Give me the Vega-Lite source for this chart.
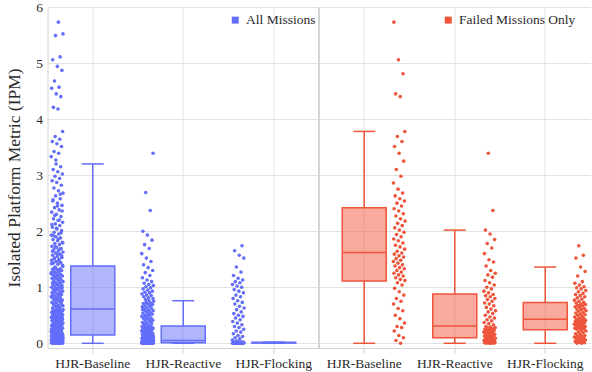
{
  "$schema": "https://vega.github.io/schema/vega-lite/v6.json",
  "width": 543,
  "height": 341,
  "autosize": "none",
  "padding": {"left": 47.5, "top": 7, "right": 1.5, "bottom": 24},
  "background": "white",
  "datasets": {
    "wh": [{"k":1,"v":0,"v2":0.15},{"k":1,"v":1.38,"v2":3.2},{"k":2,"v":0,"v2":0.01},{"k":2,"v":0.31,"v2":0.76},{"k":3,"v":0,"v2":0.005},{"k":3,"v":0.02,"v2":0.02},{"k":4,"v":0,"v2":1.11},{"k":4,"v":2.42,"v2":3.78},{"k":5,"v":0,"v2":0.1},{"k":5,"v":0.88,"v2":2.02},{"k":6,"v":0,"v2":0.24},{"k":6,"v":0.73,"v2":1.36}],
    "cap": [{"k":1,"v":0},{"k":1,"v":3.2},{"k":2,"v":0},{"k":2,"v":0.76},{"k":3,"v":0},{"k":3,"v":0.02},{"k":4,"v":0},{"k":4,"v":3.78},{"k":5,"v":0},{"k":5,"v":2.02},{"k":6,"v":0},{"k":6,"v":1.36}],
    "iqr": [{"k":1,"v":0.15,"v2":1.38},{"k":2,"v":0.01,"v2":0.31},{"k":3,"v":0.005,"v2":0.02},{"k":4,"v":1.11,"v2":2.42},{"k":5,"v":0.1,"v2":0.88},{"k":6,"v":0.24,"v2":0.73}],
    "med": [{"k":1,"v":0.61},{"k":2,"v":0.05},{"k":3,"v":0.01},{"k":4,"v":1.62},{"k":5,"v":0.31},{"k":6,"v":0.43}],
    "pts": [
      {"k":1,"v":0},{"k":1,"v":0},{"k":1,"v":0},{"k":1,"v":0},{"k":1,"v":0},{"k":1,"v":0},{"k":1,"v":0},{"k":1,"v":0},{"k":1,"v":0.01},{"k":1,"v":0.01},{"k":1,"v":0.01},{"k":1,"v":0.01},{"k":1,"v":0.01},{"k":1,"v":0.01},{"k":1,"v":0.02},{"k":1,"v":0.02},{"k":1,"v":0.02},{"k":1,"v":0.02},{"k":1,"v":0.02},{"k":1,"v":0.02},{"k":1,"v":0.03},{"k":1,"v":0.03},{"k":1,"v":0.03},{"k":1,"v":0.03},{"k":1,"v":0.03},{"k":1,"v":0.04},{"k":1,"v":0.04},{"k":1,"v":0.04},{"k":1,"v":0.04},{"k":1,"v":0.04},{"k":1,"v":0.05},{"k":1,"v":0.05},{"k":1,"v":0.05},{"k":1,"v":0.05},{"k":1,"v":0.05},{"k":1,"v":0.06},{"k":1,"v":0.06},{"k":1,"v":0.06},{"k":1,"v":0.06},{"k":1,"v":0.06},{"k":1,"v":0.07},{"k":1,"v":0.07},{"k":1,"v":0.07},{"k":1,"v":0.07},{"k":1,"v":0.08},{"k":1,"v":0.08},{"k":1,"v":0.08},{"k":1,"v":0.08},{"k":1,"v":0.08},{"k":1,"v":0.09},{"k":1,"v":0.09},{"k":1,"v":0.09},{"k":1,"v":0.09},{"k":1,"v":0.1},{"k":1,"v":0.1},{"k":1,"v":0.1},{"k":1,"v":0.1},{"k":1,"v":0.1},{"k":1,"v":0.11},{"k":1,"v":0.11},{"k":1,"v":0.11},{"k":1,"v":0.11},{"k":1,"v":0.12},{"k":1,"v":0.12},{"k":1,"v":0.12},{"k":1,"v":0.12},{"k":1,"v":0.13},{"k":1,"v":0.13},{"k":1,"v":0.13},{"k":1,"v":0.13},{"k":1,"v":0.14},{"k":1,"v":0.14},{"k":1,"v":0.14},{"k":1,"v":0.14},{"k":1,"v":0.14},{"k":1,"v":0.15},{"k":1,"v":0.15},{"k":1,"v":0.15},{"k":1,"v":0.15},{"k":1,"v":0.15},
      {"k":1,"v":0.16},{"k":1,"v":0.17},{"k":1,"v":0.17},{"k":1,"v":0.18},{"k":1,"v":0.19},{"k":1,"v":0.19},{"k":1,"v":0.2},{"k":1,"v":0.21},{"k":1,"v":0.21},{"k":1,"v":0.22},{"k":1,"v":0.23},{"k":1,"v":0.24},{"k":1,"v":0.24},{"k":1,"v":0.25},{"k":1,"v":0.26},{"k":1,"v":0.26},{"k":1,"v":0.27},{"k":1,"v":0.28},{"k":1,"v":0.29},{"k":1,"v":0.29},{"k":1,"v":0.3},{"k":1,"v":0.31},{"k":1,"v":0.31},{"k":1,"v":0.32},{"k":1,"v":0.33},{"k":1,"v":0.33},{"k":1,"v":0.34},{"k":1,"v":0.35},{"k":1,"v":0.36},{"k":1,"v":0.36},{"k":1,"v":0.37},{"k":1,"v":0.38},{"k":1,"v":0.38},{"k":1,"v":0.39},{"k":1,"v":0.4},{"k":1,"v":0.41},{"k":1,"v":0.41},{"k":1,"v":0.42},{"k":1,"v":0.43},{"k":1,"v":0.43},{"k":1,"v":0.44},{"k":1,"v":0.45},{"k":1,"v":0.46},{"k":1,"v":0.46},{"k":1,"v":0.47},{"k":1,"v":0.48},{"k":1,"v":0.48},{"k":1,"v":0.49},{"k":1,"v":0.5},{"k":1,"v":0.51},{"k":1,"v":0.51},{"k":1,"v":0.52},{"k":1,"v":0.53},{"k":1,"v":0.53},{"k":1,"v":0.54},{"k":1,"v":0.55},{"k":1,"v":0.56},{"k":1,"v":0.56},{"k":1,"v":0.57},{"k":1,"v":0.58},{"k":1,"v":0.58},{"k":1,"v":0.59},{"k":1,"v":0.6},{"k":1,"v":0.6},{"k":1,"v":0.61},{"k":1,"v":0.18},{"k":1,"v":0.22},{"k":1,"v":0.27},{"k":1,"v":0.32},{"k":1,"v":0.35},{"k":1,"v":0.39},{"k":1,"v":0.44},{"k":1,"v":0.47},{"k":1,"v":0.5},{"k":1,"v":0.55},{"k":1,"v":0.2},{"k":1,"v":0.25},{"k":1,"v":0.3},{"k":1,"v":0.4},{"k":1,"v":0.45},
      {"k":1,"v":0.62},{"k":1,"v":0.63},{"k":1,"v":0.64},{"k":1,"v":0.66},{"k":1,"v":0.67},{"k":1,"v":0.68},{"k":1,"v":0.7},{"k":1,"v":0.71},{"k":1,"v":0.72},{"k":1,"v":0.73},{"k":1,"v":0.75},{"k":1,"v":0.76},{"k":1,"v":0.77},{"k":1,"v":0.78},{"k":1,"v":0.8},{"k":1,"v":0.81},{"k":1,"v":0.82},{"k":1,"v":0.83},{"k":1,"v":0.85},{"k":1,"v":0.86},{"k":1,"v":0.87},{"k":1,"v":0.88},{"k":1,"v":0.9},{"k":1,"v":0.91},{"k":1,"v":0.92},{"k":1,"v":0.93},{"k":1,"v":0.95},{"k":1,"v":0.96},{"k":1,"v":0.97},{"k":1,"v":0.98},{"k":1,"v":1.0},{"k":1,"v":1.01},{"k":1,"v":1.02},{"k":1,"v":1.03},{"k":1,"v":1.05},{"k":1,"v":1.06},{"k":1,"v":1.07},{"k":1,"v":1.08},{"k":1,"v":1.1},{"k":1,"v":1.11},{"k":1,"v":1.12},{"k":1,"v":1.13},{"k":1,"v":1.15},{"k":1,"v":1.16},{"k":1,"v":1.17},{"k":1,"v":1.18},{"k":1,"v":1.2},{"k":1,"v":1.21},{"k":1,"v":1.22},{"k":1,"v":1.23},{"k":1,"v":1.25},{"k":1,"v":1.26},{"k":1,"v":1.27},{"k":1,"v":1.28},{"k":1,"v":1.3},{"k":1,"v":1.31},{"k":1,"v":1.32},{"k":1,"v":1.33},{"k":1,"v":1.35},{"k":1,"v":1.37},{"k":1,"v":0.65},{"k":1,"v":0.69},{"k":1,"v":0.74},{"k":1,"v":0.79},{"k":1,"v":0.84},{"k":1,"v":0.89},{"k":1,"v":0.94},{"k":1,"v":0.99},{"k":1,"v":1.04},{"k":1,"v":1.09},{"k":1,"v":1.14},{"k":1,"v":1.19},{"k":1,"v":1.24},{"k":1,"v":1.29},{"k":1,"v":1.34},{"k":1,"v":0.7},{"k":1,"v":0.8},{"k":1,"v":0.9},{"k":1,"v":1.0},{"k":1,"v":1.36},
      {"k":1,"v":1.39},{"k":1,"v":1.41},{"k":1,"v":1.43},{"k":1,"v":1.44},{"k":1,"v":1.46},{"k":1,"v":1.48},{"k":1,"v":1.5},{"k":1,"v":1.52},{"k":1,"v":1.53},{"k":1,"v":1.55},{"k":1,"v":1.57},{"k":1,"v":1.59},{"k":1,"v":1.61},{"k":1,"v":1.63},{"k":1,"v":1.65},{"k":1,"v":1.67},{"k":1,"v":1.69},{"k":1,"v":1.71},{"k":1,"v":1.73},{"k":1,"v":1.76},{"k":1,"v":1.78},{"k":1,"v":1.8},{"k":1,"v":1.83},{"k":1,"v":1.85},{"k":1,"v":1.88},{"k":1,"v":1.9},{"k":1,"v":1.93},{"k":1,"v":1.95},{"k":1,"v":1.98},{"k":1,"v":2.01},{"k":1,"v":2.04},{"k":1,"v":2.07},{"k":1,"v":2.1},{"k":1,"v":2.13},{"k":1,"v":2.16},{"k":1,"v":2.19},{"k":1,"v":2.22},{"k":1,"v":2.26},{"k":1,"v":2.3},{"k":1,"v":2.34},{"k":1,"v":2.38},{"k":1,"v":2.42},{"k":1,"v":2.46},{"k":1,"v":2.5},{"k":1,"v":2.54},{"k":1,"v":2.58},{"k":1,"v":2.63},{"k":1,"v":2.68},{"k":1,"v":2.72},{"k":1,"v":2.77},{"k":1,"v":2.82},{"k":1,"v":2.87},{"k":1,"v":2.9},{"k":1,"v":2.94},{"k":1,"v":2.98},{"k":1,"v":3.02},{"k":1,"v":3.06},{"k":1,"v":3.1},{"k":1,"v":3.15},{"k":1,"v":3.2},
      {"k":1,"v":1.42},{"k":1,"v":1.47},{"k":1,"v":1.51},{"k":1,"v":1.56},{"k":1,"v":1.6},{"k":1,"v":1.64},{"k":1,"v":1.68},{"k":1,"v":1.72},{"k":1,"v":1.79},{"k":1,"v":1.86},{"k":1,"v":1.92},{"k":1,"v":1.97},{"k":1,"v":2.05},{"k":1,"v":2.12},{"k":1,"v":2.2},{"k":1,"v":2.28},{"k":1,"v":2.36},{"k":1,"v":2.45},{"k":1,"v":2.56},{"k":1,"v":2.66},
      {"k":1,"v":3.27},{"k":1,"v":3.33},{"k":1,"v":3.39},{"k":1,"v":3.42},{"k":1,"v":3.51},{"k":1,"v":3.56},{"k":1,"v":3.6},{"k":1,"v":3.64},{"k":1,"v":3.69},{"k":1,"v":3.78},{"k":1,"v":4.18},{"k":1,"v":4.21},{"k":1,"v":4.4},{"k":1,"v":4.45},{"k":1,"v":4.55},{"k":1,"v":4.57},{"k":1,"v":4.68},{"k":1,"v":4.87},{"k":1,"v":4.94},{"k":1,"v":5.06},{"k":1,"v":5.11},{"k":1,"v":5.49},{"k":1,"v":5.52},{"k":1,"v":5.73},
      {"k":2,"v":0},{"k":2,"v":0},{"k":2,"v":0},{"k":2,"v":0},{"k":2,"v":0},{"k":2,"v":0},{"k":2,"v":0},{"k":2,"v":0},{"k":2,"v":0},{"k":2,"v":0},{"k":2,"v":0},{"k":2,"v":0},{"k":2,"v":0},{"k":2,"v":0},{"k":2,"v":0},{"k":2,"v":0},{"k":2,"v":0},{"k":2,"v":0},{"k":2,"v":0},{"k":2,"v":0},{"k":2,"v":0.01},{"k":2,"v":0.01},{"k":2,"v":0.01},{"k":2,"v":0.01},{"k":2,"v":0.01},{"k":2,"v":0.01},{"k":2,"v":0.01},{"k":2,"v":0.01},{"k":2,"v":0.01},{"k":2,"v":0.01},{"k":2,"v":0.02},{"k":2,"v":0.02},{"k":2,"v":0.02},{"k":2,"v":0.02},{"k":2,"v":0.02},{"k":2,"v":0.02},{"k":2,"v":0.02},{"k":2,"v":0.02},{"k":2,"v":0.02},{"k":2,"v":0.02},{"k":2,"v":0.03},{"k":2,"v":0.03},{"k":2,"v":0.03},{"k":2,"v":0.03},{"k":2,"v":0.03},{"k":2,"v":0.03},{"k":2,"v":0.03},{"k":2,"v":0.03},{"k":2,"v":0.04},{"k":2,"v":0.04},{"k":2,"v":0.04},{"k":2,"v":0.04},{"k":2,"v":0.04},{"k":2,"v":0.04},{"k":2,"v":0.05},{"k":2,"v":0.05},{"k":2,"v":0.05},{"k":2,"v":0.05},{"k":2,"v":0.05},{"k":2,"v":0.05},
      {"k":2,"v":0.06},{"k":2,"v":0.06},{"k":2,"v":0.07},{"k":2,"v":0.07},{"k":2,"v":0.08},{"k":2,"v":0.08},{"k":2,"v":0.09},{"k":2,"v":0.09},{"k":2,"v":0.1},{"k":2,"v":0.1},{"k":2,"v":0.11},{"k":2,"v":0.11},{"k":2,"v":0.12},{"k":2,"v":0.12},{"k":2,"v":0.13},{"k":2,"v":0.13},{"k":2,"v":0.14},{"k":2,"v":0.15},{"k":2,"v":0.15},{"k":2,"v":0.16},{"k":2,"v":0.16},{"k":2,"v":0.17},{"k":2,"v":0.18},{"k":2,"v":0.18},{"k":2,"v":0.19},{"k":2,"v":0.2},{"k":2,"v":0.2},{"k":2,"v":0.21},{"k":2,"v":0.22},{"k":2,"v":0.22},{"k":2,"v":0.23},{"k":2,"v":0.24},{"k":2,"v":0.24},{"k":2,"v":0.25},{"k":2,"v":0.25},{"k":2,"v":0.26},{"k":2,"v":0.27},{"k":2,"v":0.27},{"k":2,"v":0.28},{"k":2,"v":0.29},{"k":2,"v":0.29},{"k":2,"v":0.3},{"k":2,"v":0.3},{"k":2,"v":0.31},{"k":2,"v":0.14},{"k":2,"v":0.19},{"k":2,"v":0.23},{"k":2,"v":0.26},{"k":2,"v":0.28},{"k":2,"v":0.1},
      {"k":2,"v":0.32},{"k":2,"v":0.33},{"k":2,"v":0.35},{"k":2,"v":0.36},{"k":2,"v":0.37},{"k":2,"v":0.39},{"k":2,"v":0.4},{"k":2,"v":0.41},{"k":2,"v":0.43},{"k":2,"v":0.44},{"k":2,"v":0.45},{"k":2,"v":0.46},{"k":2,"v":0.48},{"k":2,"v":0.49},{"k":2,"v":0.5},{"k":2,"v":0.52},{"k":2,"v":0.53},{"k":2,"v":0.54},{"k":2,"v":0.55},{"k":2,"v":0.57},{"k":2,"v":0.58},{"k":2,"v":0.59},{"k":2,"v":0.61},{"k":2,"v":0.62},{"k":2,"v":0.63},{"k":2,"v":0.65},{"k":2,"v":0.66},{"k":2,"v":0.67},{"k":2,"v":0.69},{"k":2,"v":0.7},{"k":2,"v":0.71},{"k":2,"v":0.72},{"k":2,"v":0.73},{"k":2,"v":0.75},{"k":2,"v":0.76},{"k":2,"v":0.34},{"k":2,"v":0.42},{"k":2,"v":0.51},{"k":2,"v":0.6},{"k":2,"v":0.68},
      {"k":2,"v":0.78},{"k":2,"v":0.8},{"k":2,"v":0.81},{"k":2,"v":0.83},{"k":2,"v":0.85},{"k":2,"v":0.86},{"k":2,"v":0.88},{"k":2,"v":0.9},{"k":2,"v":0.91},{"k":2,"v":0.93},{"k":2,"v":0.95},{"k":2,"v":0.97},{"k":2,"v":0.99},{"k":2,"v":1.01},{"k":2,"v":1.03},{"k":2,"v":1.05},{"k":2,"v":1.07},{"k":2,"v":1.1},{"k":2,"v":1.13},{"k":2,"v":1.17},{"k":2,"v":1.21},{"k":2,"v":1.26},{"k":2,"v":1.3},{"k":2,"v":1.35},{"k":2,"v":1.4},{"k":2,"v":1.46},{"k":2,"v":1.52},{"k":2,"v":1.6},{"k":2,"v":1.69},{"k":2,"v":1.76},{"k":2,"v":1.84},{"k":2,"v":1.93},{"k":2,"v":2.0},{"k":2,"v":2.37},{"k":2,"v":2.69},{"k":2,"v":3.39},
      {"k":3,"v":0},{"k":3,"v":0},{"k":3,"v":0},{"k":3,"v":0},{"k":3,"v":0},{"k":3,"v":0},{"k":3,"v":0},{"k":3,"v":0},{"k":3,"v":0},{"k":3,"v":0},{"k":3,"v":0},{"k":3,"v":0},{"k":3,"v":0},{"k":3,"v":0},{"k":3,"v":0},{"k":3,"v":0},{"k":3,"v":0},{"k":3,"v":0},{"k":3,"v":0.01},{"k":3,"v":0.01},{"k":3,"v":0.01},{"k":3,"v":0.01},{"k":3,"v":0.01},{"k":3,"v":0.01},{"k":3,"v":0.01},{"k":3,"v":0.01},{"k":3,"v":0.02},{"k":3,"v":0.02},{"k":3,"v":0.02},{"k":3,"v":0.02},{"k":3,"v":0.02},{"k":3,"v":0.02},
      {"k":3,"v":0.04},{"k":3,"v":0.06},{"k":3,"v":0.08},{"k":3,"v":0.1},{"k":3,"v":0.12},{"k":3,"v":0.14},{"k":3,"v":0.17},{"k":3,"v":0.2},{"k":3,"v":0.22},{"k":3,"v":0.25},{"k":3,"v":0.28},{"k":3,"v":0.3},{"k":3,"v":0.33},{"k":3,"v":0.36},{"k":3,"v":0.39},{"k":3,"v":0.42},{"k":3,"v":0.45},{"k":3,"v":0.48},{"k":3,"v":0.5},{"k":3,"v":0.53},{"k":3,"v":0.56},{"k":3,"v":0.6},{"k":3,"v":0.63},{"k":3,"v":0.66},{"k":3,"v":0.7},{"k":3,"v":0.73},{"k":3,"v":0.76},{"k":3,"v":0.8},{"k":3,"v":0.83},{"k":3,"v":0.86},{"k":3,"v":0.9},{"k":3,"v":0.93},{"k":3,"v":0.96},{"k":3,"v":1.0},{"k":3,"v":1.02},{"k":3,"v":1.05},{"k":3,"v":1.08},{"k":3,"v":1.1},{"k":3,"v":1.13},{"k":3,"v":1.16},{"k":3,"v":1.21},{"k":3,"v":1.27},{"k":3,"v":1.36},{"k":3,"v":1.52},{"k":3,"v":1.57},{"k":3,"v":1.65},{"k":3,"v":1.74},
      {"k":4,"v":0},{"k":4,"v":0.05},{"k":4,"v":0.1},{"k":4,"v":0.14},{"k":4,"v":0.22},{"k":4,"v":0.28},{"k":4,"v":0.3},{"k":4,"v":0.36},{"k":4,"v":0.44},{"k":4,"v":0.5},{"k":4,"v":0.58},{"k":4,"v":0.62},{"k":4,"v":0.7},{"k":4,"v":0.75},{"k":4,"v":0.8},{"k":4,"v":0.86},{"k":4,"v":0.92},{"k":4,"v":0.98},{"k":4,"v":1.04},{"k":4,"v":1.08},
      {"k":4,"v":1.12},{"k":4,"v":1.14},{"k":4,"v":1.17},{"k":4,"v":1.2},{"k":4,"v":1.22},{"k":4,"v":1.25},{"k":4,"v":1.27},{"k":4,"v":1.3},{"k":4,"v":1.33},{"k":4,"v":1.35},{"k":4,"v":1.38},{"k":4,"v":1.4},{"k":4,"v":1.43},{"k":4,"v":1.46},{"k":4,"v":1.48},{"k":4,"v":1.51},{"k":4,"v":1.54},{"k":4,"v":1.56},{"k":4,"v":1.59},{"k":4,"v":1.61},
      {"k":4,"v":1.64},{"k":4,"v":1.68},{"k":4,"v":1.72},{"k":4,"v":1.75},{"k":4,"v":1.79},{"k":4,"v":1.83},{"k":4,"v":1.86},{"k":4,"v":1.9},{"k":4,"v":1.94},{"k":4,"v":1.98},{"k":4,"v":2.02},{"k":4,"v":2.06},{"k":4,"v":2.1},{"k":4,"v":2.14},{"k":4,"v":2.18},{"k":4,"v":2.22},{"k":4,"v":2.27},{"k":4,"v":2.31},{"k":4,"v":2.36},{"k":4,"v":2.4},
      {"k":4,"v":2.45},{"k":4,"v":2.5},{"k":4,"v":2.54},{"k":4,"v":2.58},{"k":4,"v":2.63},{"k":4,"v":2.68},{"k":4,"v":2.75},{"k":4,"v":2.86},{"k":4,"v":2.98},{"k":4,"v":3.1},{"k":4,"v":3.25},{"k":4,"v":3.39},{"k":4,"v":3.51},{"k":4,"v":3.6},{"k":4,"v":3.69},{"k":4,"v":3.78},{"k":4,"v":4.4},{"k":4,"v":4.45},{"k":4,"v":4.81},{"k":4,"v":5.06},{"k":4,"v":5.73},
      {"k":5,"v":0},{"k":5,"v":0},{"k":5,"v":0},{"k":5,"v":0},{"k":5,"v":0.01},{"k":5,"v":0.01},{"k":5,"v":0.02},{"k":5,"v":0.02},{"k":5,"v":0.03},{"k":5,"v":0.03},{"k":5,"v":0.04},{"k":5,"v":0.04},{"k":5,"v":0.05},{"k":5,"v":0.05},{"k":5,"v":0.06},{"k":5,"v":0.06},{"k":5,"v":0.07},{"k":5,"v":0.07},{"k":5,"v":0.08},{"k":5,"v":0.08},{"k":5,"v":0.09},{"k":5,"v":0.1},
      {"k":5,"v":0.11},{"k":5,"v":0.12},{"k":5,"v":0.12},{"k":5,"v":0.13},{"k":5,"v":0.14},{"k":5,"v":0.15},{"k":5,"v":0.16},{"k":5,"v":0.17},{"k":5,"v":0.17},{"k":5,"v":0.18},{"k":5,"v":0.19},{"k":5,"v":0.2},{"k":5,"v":0.21},{"k":5,"v":0.22},{"k":5,"v":0.23},{"k":5,"v":0.24},{"k":5,"v":0.25},{"k":5,"v":0.26},{"k":5,"v":0.27},{"k":5,"v":0.28},{"k":5,"v":0.29},{"k":5,"v":0.3},
      {"k":5,"v":0.33},{"k":5,"v":0.35},{"k":5,"v":0.37},{"k":5,"v":0.4},{"k":5,"v":0.42},{"k":5,"v":0.45},{"k":5,"v":0.47},{"k":5,"v":0.5},{"k":5,"v":0.53},{"k":5,"v":0.56},{"k":5,"v":0.58},{"k":5,"v":0.61},{"k":5,"v":0.64},{"k":5,"v":0.67},{"k":5,"v":0.7},{"k":5,"v":0.72},{"k":5,"v":0.75},{"k":5,"v":0.78},{"k":5,"v":0.8},{"k":5,"v":0.83},{"k":5,"v":0.85},{"k":5,"v":0.87},
      {"k":5,"v":0.9},{"k":5,"v":0.93},{"k":5,"v":0.97},{"k":5,"v":1.0},{"k":5,"v":1.04},{"k":5,"v":1.08},{"k":5,"v":1.12},{"k":5,"v":1.18},{"k":5,"v":1.22},{"k":5,"v":1.25},{"k":5,"v":1.3},{"k":5,"v":1.38},{"k":5,"v":1.45},{"k":5,"v":1.49},{"k":5,"v":1.6},{"k":5,"v":1.7},{"k":5,"v":1.78},{"k":5,"v":1.85},{"k":5,"v":1.95},{"k":5,"v":2.02},{"k":5,"v":2.37},{"k":5,"v":3.39},
      {"k":6,"v":0},{"k":6,"v":0},{"k":6,"v":0.01},{"k":6,"v":0.02},{"k":6,"v":0.03},{"k":6,"v":0.04},{"k":6,"v":0.05},{"k":6,"v":0.06},{"k":6,"v":0.07},{"k":6,"v":0.08},{"k":6,"v":0.09},{"k":6,"v":0.1},{"k":6,"v":0.11},{"k":6,"v":0.12},{"k":6,"v":0.13},{"k":6,"v":0.14},{"k":6,"v":0.16},{"k":6,"v":0.17},{"k":6,"v":0.19},{"k":6,"v":0.2},{"k":6,"v":0.22},{"k":6,"v":0.23},
      {"k":6,"v":0.25},{"k":6,"v":0.26},{"k":6,"v":0.27},{"k":6,"v":0.27},{"k":6,"v":0.28},{"k":6,"v":0.29},{"k":6,"v":0.3},{"k":6,"v":0.31},{"k":6,"v":0.32},{"k":6,"v":0.33},{"k":6,"v":0.33},{"k":6,"v":0.34},{"k":6,"v":0.35},{"k":6,"v":0.36},{"k":6,"v":0.37},{"k":6,"v":0.38},{"k":6,"v":0.39},{"k":6,"v":0.39},{"k":6,"v":0.4},{"k":6,"v":0.41},{"k":6,"v":0.42},{"k":6,"v":0.43},
      {"k":6,"v":0.44},{"k":6,"v":0.45},{"k":6,"v":0.47},{"k":6,"v":0.48},{"k":6,"v":0.5},{"k":6,"v":0.51},{"k":6,"v":0.52},{"k":6,"v":0.54},{"k":6,"v":0.55},{"k":6,"v":0.57},{"k":6,"v":0.58},{"k":6,"v":0.6},{"k":6,"v":0.61},{"k":6,"v":0.62},{"k":6,"v":0.64},{"k":6,"v":0.65},{"k":6,"v":0.67},{"k":6,"v":0.68},{"k":6,"v":0.69},{"k":6,"v":0.7},{"k":6,"v":0.72},{"k":6,"v":0.73},
      {"k":6,"v":0.75},{"k":6,"v":0.77},{"k":6,"v":0.79},{"k":6,"v":0.81},{"k":6,"v":0.83},{"k":6,"v":0.85},{"k":6,"v":0.87},{"k":6,"v":0.89},{"k":6,"v":0.92},{"k":6,"v":0.94},{"k":6,"v":0.97},{"k":6,"v":0.99},{"k":6,"v":1.01},{"k":6,"v":1.04},{"k":6,"v":1.07},{"k":6,"v":1.1},{"k":6,"v":1.2},{"k":6,"v":1.28},{"k":6,"v":1.36},{"k":6,"v":1.52},{"k":6,"v":1.57},{"k":6,"v":1.74}
    ]
  },
  "encoding": {
    "x": {"field": "k", "type": "ordinal", "title": null,
      "scale": {"domain": [1, 2, 3, 4, 5, 6], "paddingInner": 0, "paddingOuter": 0},
      "axis": {"labelExpr": "['','HJR-Baseline','HJR-Reactive','HJR-Flocking','HJR-Baseline','HJR-Reactive','HJR-Flocking'][datum.value]", "labelAngle": 0, "ticks": true, "tickSize": 5, "labelPadding": 3, "grid": true, "domain": true}},
    "y": {"field": "v", "type": "quantitative", "title": "Isolated Platform Metric (IPM)",
      "scale": {"domain": [-0.084, 6], "nice": false, "zero": false},
      "axis": {"values": [0, 1, 2, 3, 4, 5, 6], "tickCount": 7, "ticks": false, "labelPadding": 5, "titlePadding": 12, "grid": true, "domain": true}}
  },
  "layer": [
    {
      "data": {"values": [{"k": 4, "v": -0.084, "v2": 6}]},
      "mark": {"type": "rule", "color": "#d4d4d4", "strokeWidth": 2},
      "encoding": {
        "x": {"field": "k", "type": "ordinal", "title": null, "bandPosition": 0,
          "scale": {"domain": [1, 2, 3, 4, 5, 6], "paddingInner": 0, "paddingOuter": 0},
          "axis": {"labelExpr": "['','HJR-Baseline','HJR-Reactive','HJR-Flocking','HJR-Baseline','HJR-Reactive','HJR-Flocking'][datum.value]", "labelAngle": 0, "ticks": true, "tickSize": 5, "labelPadding": 3, "grid": true, "domain": true}},
        "y2": {"field": "v2"}
      }
    },
    {"data": {"name": "wh"}, "transform": [{"filter": "datum.k <= 3"}], "mark": {"type": "rule", "color": "#636EFA", "strokeWidth": 1.5}, "encoding": {"y2": {"field": "v2"}}},
    {"data": {"name": "wh"}, "transform": [{"filter": "datum.k > 3"}], "mark": {"type": "rule", "color": "#EF553B", "strokeWidth": 1.5}, "encoding": {"y2": {"field": "v2"}}},
    {"data": {"name": "cap"}, "transform": [{"filter": "datum.k <= 3"}], "mark": {"type": "tick", "color": "#636EFA", "size": 22, "thickness": 1.5, "opacity": 1}},
    {"data": {"name": "cap"}, "transform": [{"filter": "datum.k > 3"}], "mark": {"type": "tick", "color": "#EF553B", "size": 22, "thickness": 1.5, "opacity": 1}},
    {"data": {"name": "iqr"}, "transform": [{"filter": "datum.k <= 3"}], "mark": {"type": "bar", "width": 44, "fill": "#636EFA", "fillOpacity": 0.5, "stroke": "#636EFA", "strokeWidth": 1.5}, "encoding": {"y2": {"field": "v2"}}},
    {"data": {"name": "iqr"}, "transform": [{"filter": "datum.k > 3"}], "mark": {"type": "bar", "width": 44, "fill": "#EF553B", "fillOpacity": 0.5, "stroke": "#EF553B", "strokeWidth": 1.5}, "encoding": {"y2": {"field": "v2"}}},
    {"data": {"name": "med"}, "transform": [{"filter": "datum.k <= 3"}], "mark": {"type": "tick", "color": "#636EFA", "size": 44, "thickness": 1.5, "opacity": 1}},
    {"data": {"name": "med"}, "transform": [{"filter": "datum.k > 3"}], "mark": {"type": "tick", "color": "#EF553B", "size": 44, "thickness": 1.5, "opacity": 1}},
    {
      "data": {"name": "pts"},
      "transform": [
        {"window": [{"op": "row_number", "as": "r"}], "groupby": ["k"]},
        {"calculate": "(datum.k <= 3 ? 0 : 0.8545) + ((datum.r * 0.6180339887) % 1) * 0.1455", "as": "j"},
        {"calculate": "datum.k <= 3 ? 'All Missions' : 'Failed Missions Only'", "as": "grp"}
      ],
      "mark": {"type": "circle", "size": 13, "opacity": 1},
      "encoding": {
        "xOffset": {"field": "j", "type": "quantitative", "scale": {"domain": [0, 1], "range": [3.65, 86.15]}},
        "color": {"field": "grp", "type": "nominal",
          "scale": {"domain": ["All Missions", "Failed Missions Only"], "range": ["#636EFA", "#EF553B"]},
          "legend": {"orient": "none", "legendX": 181, "legendY": 6, "direction": "horizontal", "columns": 2, "columnPadding": 126, "title": null, "padding": 0, "symbolType": "square", "symbolSize": 49, "labelOffset": 4,
            "encode": {"symbols": {"update": {"fillOpacity": {"value": 0.5}, "stroke": {"scale": "color", "field": "value"}, "strokeWidth": {"value": 1.2}, "opacity": {"value": 1}}}}}}
      }
    }
  ],
  "config": {
    "font": "Liberation Serif",
    "view": {"stroke": null},
    "axis": {"labelFont": "Liberation Serif", "labelFontSize": 13.5, "labelColor": "#2a2a2a", "titleFont": "Liberation Serif", "titleFontSize": 17.5, "titleFontWeight": "normal", "titleColor": "#2a2a2a", "gridColor": "#e2e2e2", "gridWidth": 1, "domainColor": "#d4d4d4", "tickColor": "#cfcfcf"},
    "legend": {"labelFont": "Liberation Serif", "labelFontSize": 13.5, "labelColor": "#2a2a2a"}
  }
}
